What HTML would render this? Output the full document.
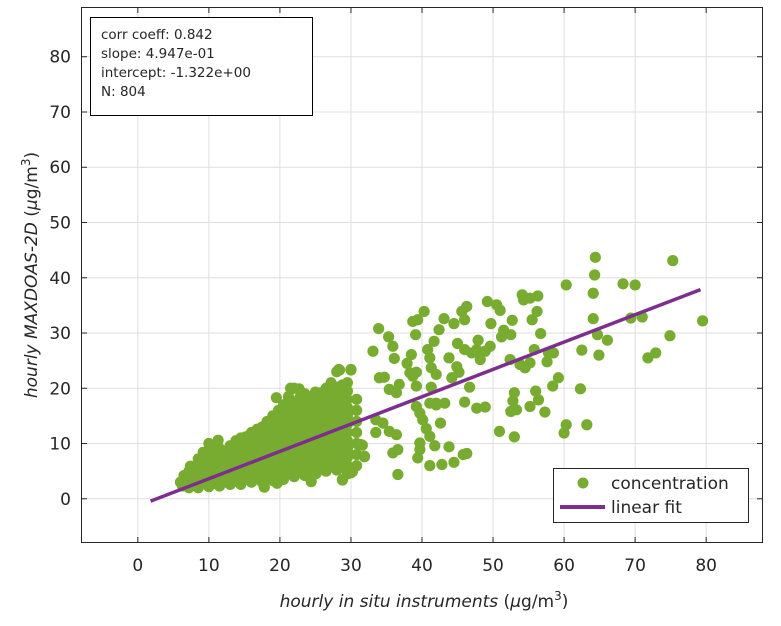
<!DOCTYPE html>
<html><head><meta charset="utf-8"><style>
html,body{margin:0;padding:0;background:#fff;}
svg text{font-family:"DejaVu Sans","Liberation Sans",sans-serif;fill:#262626;}
</style></head><body>
<svg id="chart" width="781" height="621" xmlns="http://www.w3.org/2000/svg">
<g id="grid"></g>
<g id="pts"></g>
<g id="fit"></g>
<g id="axes"></g>
<g>
<rect x="90.5" y="17.5" width="222" height="98" fill="#fff" stroke="#000" stroke-width="1"/>
<text x="101" y="39" font-size="13.5">corr coeff: 0.842</text>
<text x="101" y="58" font-size="13.5">slope: 4.947e-01</text>
<text x="101" y="77" font-size="13.5">intercept: -1.322e+00</text>
<text x="101" y="96" font-size="13.5">N: 804</text>
</g>
<g>
<rect x="553.5" y="468.5" width="195" height="54" fill="#fff" stroke="#262626" stroke-width="1"/>
<circle cx="583" cy="483" r="5.5" fill="#77ac30"/>
<text x="611" y="489" font-size="17">concentration</text>
<line x1="560" y1="507" x2="605" y2="507" stroke="#7e2f8e" stroke-width="4"/>
<text x="611" y="513" font-size="17">linear fit</text>
</g>
<text x="424" y="607" font-size="17" text-anchor="middle"><tspan font-style="italic">hourly in situ instruments</tspan> (<tspan font-style="italic">μ</tspan>g/m<tspan dy="-7" font-size="12">3</tspan><tspan dy="7">)</tspan></text>
<text transform="translate(37,275) rotate(-90)" font-size="17" text-anchor="middle"><tspan font-style="italic">hourly MAXDOAS-2D</tspan> (<tspan font-style="italic">μ</tspan>g/m<tspan dy="-7" font-size="12">3</tspan><tspan dy="7">)</tspan></text>
</svg>
<script>
const xTicks=[0,10,20,30,40,50,60,70,80];
const yTicks=[0,10,20,30,40,50,60,70,80];
const fitSlope=0.4947;
const fitIntercept=-1.322;
const fitRange=[1.8,79.2];
const outX=[64.4,75.3,64.3,60.3,68.3,70.0,64.1,54.1,55.2,56.3,54.3,49.2,50.5,51.0,46.3,45.6,46.0,56.2,55.5,52.7,64.1,69.4,71.0,79.5,40.3,39.4,38.7,43.1,44.5,49.7,33.9,42.4,51.5,52.5,51.2,56.7,74.9,35.3,35.9,39.1,41.7,40.8,41.1,45.0,46.0,47.0,47.7,47.9,49.6,48.9,48.2,55.8,57.8,58.5,57.6,52.4,53.8,55.2,54.5,62.5,64.9,66.1,64.7,71.8,72.9,33.1,36.1,38.5,37.9,43.8,44.9,45.2,44.2,41.3,42.0,38.3,39.2,38.7,34.0,34.7,59.2,58.4,62.3,46.7,53.0,56.0,56.4,55.2,52.8,53.3,52.5,57.3,46.0,47.7,48.9,43.2,42.0,39.2,41.3,60.3,60.0,63.2,50.9,53.0,42.6,40.6,41.1,39.7,41.8,43.8,41.1,42.8,44.5,45.8,46.3,39.4,39.7,36.6,35.9,36.6,31.4,31.9,30.0,28.8,28.3,30.0,33.5,35.4,36.4,34.5,33.5,36.8,36.4,35.4,39.2,39.7,40.1,41.1,42.0,19.5,21.5,22.7,28.4,30.0,11.3,7.4,19.6,17.8,25.1,24.4,28.8,30.2,31.6,31.9];
const outY=[43.7,43.1,40.5,38.7,38.9,38.7,37.2,36.9,36.3,36.7,36.0,35.7,35.1,34.1,34.8,33.9,32.4,33.9,32.4,32.3,32.6,32.7,32.9,32.2,33.9,32.4,32.1,32.6,31.7,31.7,30.8,30.6,30.5,29.7,29.3,29.9,29.5,29.3,27.6,29.7,28.5,27.0,25.5,28.1,27.0,26.4,27.0,28.7,27.6,26.7,25.2,27.0,26.4,26.4,24.8,25.2,24.3,24.6,23.7,26.9,26.0,28.7,29.7,25.5,26.4,26.7,25.4,26.1,24.5,25.5,23.9,22.9,21.9,23.7,22.5,22.8,22.9,22.2,21.9,22.0,21.9,20.4,19.9,20.2,19.2,19.5,17.9,16.7,17.7,16.1,15.8,15.7,17.5,16.4,16.6,17.3,17.0,20.4,20.2,13.4,11.9,13.4,12.2,11.2,13.7,12.7,11.3,10.1,9.6,9.4,6.0,6.2,6.6,8.0,8.2,7.4,8.9,4.4,8.3,8.9,9.8,7.7,4.7,3.5,23.4,23.4,12.0,12.2,11.6,13.7,14.3,20.7,19.2,19.8,16.7,15.5,14.3,17.3,17.3,18.3,20.0,19.9,23.3,23.3,10.6,5.9,2.8,2.1,4.6,3.1,3.4,4.9,9.7,7.6];
const denseX=[6,6.5,6.3,7.2,7.2,7.2,8.5,8.5,8.5,8.5,8.5,10,10,10,10,10,10,10,11.5,11.5,11.5,11.5,11.5,11.5,13,13,13,13,13,13,14.5,14.5,14.5,14.5,14.5,14.5,14.5,16,16,16,16,16,16,16,17.5,17.5,17.5,17.5,17.5,17.5,17.5,17.5,19,19,19,19,19,19,19,19,19,20.5,20.5,20.5,20.5,20.5,20.5,20.5,20.5,20.5,20.5,22,22,22,22,22,22,22,22,22,22,22,23.5,23.5,23.5,23.5,23.5,23.5,23.5,23.5,23.5,23.5,23.5,25,25,25,25,25,25,25,25,25,25,25,26.5,26.5,26.5,26.5,26.5,26.5,26.5,26.5,26.5,26.5,26.5,28,28,28,28,28,28,28,28,28,28,28,28,29.5,29.5,29.5,29.5,29.5,29.5,29.5,29.5,29.5,29.5,29.5,29.5];
const denseY=[3,4.2,2.3,2,3.5,5,2,3.3,4.6,6,7.2,2.2,3.5,4.8,6.1,7.4,8.7,10,2.3,3.7,5,6.4,7.8,9.1,2.6,4,5.4,6.8,8.2,9.6,2.6,4,5.5,7,8.5,10,11,3,4.5,6,7.5,9,10.5,12,3,4.5,6,7.5,9,10.5,12,13,3.3,4.8,6.3,7.8,9.3,10.8,12.3,13.8,15,3.5,5,6.5,8,9.5,11,12.5,14,15.5,17,4,5.5,7,8.5,10,11.5,13,14.5,16,17.5,20,4.2,5.7,7.2,8.7,10.2,11.7,13.2,14.7,16.2,17.7,19,4.5,6,7.5,9,10.5,12,13.5,15,16.5,18,19.3,5,6.5,8,9.5,11,12.5,14,15.5,17,18.5,20,5.2,6.7,8.2,9.7,11.2,12.7,14.2,15.7,17.2,18.7,20.2,23,4.5,6,7.5,9,10.5,12,13.5,15,16.5,18,19.5,21];
const denseX2=[7.8,7.8,7.8,9.2,9.2,9.2,9.2,9.2,10.8,10.8,10.8,10.8,10.8,10.8,12.2,12.2,12.2,12.2,12.2,13.8,13.8,13.8,13.8,13.8,13.8,15.2,15.2,15.2,15.2,15.2,15.2,16.8,16.8,16.8,16.8,16.8,16.8,16.8,18.2,18.2,18.2,18.2,18.2,18.2,18.2,18.2,19.8,19.8,19.8,19.8,19.8,19.8,19.8,19.8,19.8,21.2,21.2,21.2,21.2,21.2,21.2,21.2,21.2,21.2,21.2,22.8,22.8,22.8,22.8,22.8,22.8,22.8,22.8,22.8,22.8,24.2,24.2,24.2,24.2,24.2,24.2,24.2,24.2,24.2,24.2,25.8,25.8,25.8,25.8,25.8,25.8,25.8,25.8,25.8,25.8,27.2,27.2,27.2,27.2,27.2,27.2,27.2,27.2,27.2,27.2,27.2,28.8,28.8,28.8,28.8,28.8,28.8,28.8,28.8,28.8,28.8,28.8,30.8,30.8,30.8,30.8,30.8,30.8,30.8];
const denseY2=[2.6,4,5.5,2.8,4.2,5.6,7,8.4,2.8,4.2,5.6,7,8.4,9.6,3,4.4,5.8,7.2,8.6,3.2,4.7,6.2,7.7,9.2,10.5,3.6,5.2,6.8,8.3,9.8,11.2,3.7,5.2,6.8,8.3,9.8,11.3,12.6,4,5.5,7,8.5,10,11.5,13,14,4.2,5.7,7.2,8.7,10.2,11.7,13.2,14.7,16,4.7,6.2,7.7,9.2,10.7,12.2,13.7,15.2,16.7,18.5,5,6.5,8,9.5,11,12.5,14,15.5,17,18.3,5.2,6.7,8.2,9.7,11.2,12.7,14.2,15.7,17.2,18.5,5.7,7.2,8.7,10.2,11.7,13.2,14.7,16.2,17.7,19.2,5.8,7.3,8.8,10.3,11.8,13.3,14.8,16.3,17.8,19.3,21,5.6,7.1,8.6,10.1,11.6,13.1,14.6,16.1,17.6,19.1,20.6,6,8,10,12,14,16,18];

const L=81,R=763,T=7,B=543,XMIN=-8,XMAX=88,YMIN=-8,YMAX=89;
const sx=v=>L+(v-XMIN)/(XMAX-XMIN)*(R-L);
const sy=v=>B-(v-YMIN)/(YMAX-YMIN)*(B-T);
const NS='http://www.w3.org/2000/svg';
function mk(tag,parent,attrs){const e=document.createElementNS(NS,tag);for(const k in attrs)e.setAttribute(k,attrs[k]);parent.appendChild(e);return e;}
const grid=document.getElementById('grid'),axes=document.getElementById('axes');
xTicks.forEach(t=>{
  const x=sx(t);
  const g=mk('line',grid,{x1:x,y1:T,x2:x,y2:B,stroke:'#dfdfdf','stroke-width':1});
  
  
  mk('line',axes,{x1:x,y1:B,x2:x,y2:B-6,stroke:'#262626','stroke-width':1});
  mk('line',axes,{x1:x,y1:T,x2:x,y2:T+6,stroke:'#262626','stroke-width':1});
  const tx=mk('text',axes,{x:x,y:B+28,'font-size':17,'text-anchor':'middle'});
  tx.textContent=t;
  
  
});
yTicks.forEach(t=>{
  const y=sy(t);
  const g=mk('line',grid,{x1:L,y1:y,x2:R,y2:y,stroke:'#dfdfdf','stroke-width':1});
  
  
  mk('line',axes,{x1:L,y1:y,x2:L+6,y2:y,stroke:'#262626','stroke-width':1});
  mk('line',axes,{x1:R,y1:y,x2:R-6,y2:y,stroke:'#262626','stroke-width':1});
  const tx=mk('text',axes,{x:L-10,y:y+6,'font-size':17,'text-anchor':'end'});
  tx.textContent=t;
  
  
});
const frame=mk('rect',axes,{x:L+0.5,y:T+0.5,width:R-L-1,height:B-T-1,fill:'none',stroke:'#262626','stroke-width':1});


const pts=document.getElementById('pts');
function dot(x,y){
  const c=mk('circle',pts,{cx:sx(x),cy:sy(y),r:5.6,fill:'#77ac30'});
  
  
}
denseX.forEach((x,i)=>dot(x,denseY[i]));
denseX2.forEach((x,i)=>dot(x,denseY2[i]));
outX.forEach((x,i)=>dot(x,outY[i]));
const fit=document.getElementById('fit');
const fl=mk('line',fit,{x1:sx(fitRange[0]),y1:sy(fitSlope*fitRange[0]+fitIntercept),x2:sx(fitRange[1]),y2:sy(fitSlope*fitRange[1]+fitIntercept),stroke:'#7e2f8e','stroke-width':3.5});


</script>
</body></html>
